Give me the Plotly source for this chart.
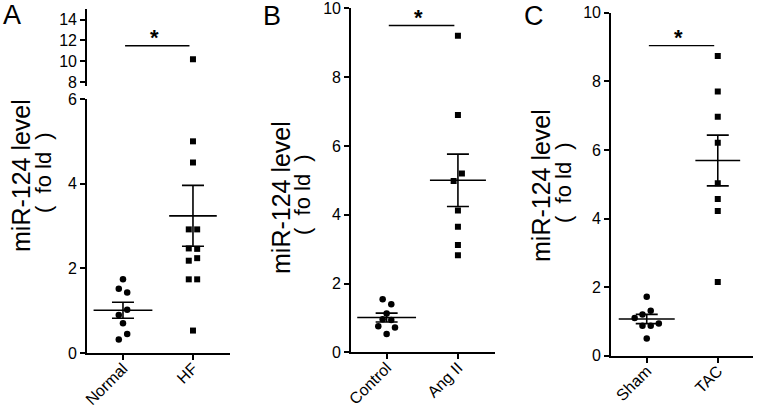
import plotly.graph_objects as go

# ---------------- data ----------------
a_labels = ["Normal", "HF"]
normal_vals = [1.74, 1.52, 1.43, 1.02, 0.90, 0.70, 0.45, 0.32]
normal_dx = [0, -0.06, 0.06, 0.06, -0.06, 0, 0.06, -0.06]
hf_vals = [10.2, 5.0, 4.5, 2.92, 2.92, 2.47, 2.46, 2.18, 2.24, 1.74, 1.74, 0.53]
hf_dx = [0, 0, 0, -0.06, 0.06, -0.06, 0.06, -0.06, 0.06, -0.06, 0.06, 0]
a_mean = [1.01, 3.24]
a_sem = [0.19, 0.72]
a_sig = 11.5

b_labels = ["Control", "Ang II"]
control_vals = [1.54, 1.40, 1.13, 0.96, 0.94, 0.76, 0.72, 0.53]
control_dx = [-0.056, 0.065, 0, -0.056, 0.065, -0.117, 0.117, 0]
angii_vals = [9.2, 6.9, 5.2, 4.98, 4.12, 3.65, 3.12, 2.82]
angii_dx = [0, 0, 0.056, -0.06, 0, 0, 0, 0]
b_mean = [1.01, 5.0]
b_sem = [0.13, 0.76]
b_sig = 9.5

c_labels = ["Sham", "TAC"]
sham_vals = [1.72, 1.31, 1.20, 1.10, 0.94, 0.87, 0.87, 0.50]
sham_dx = [0, 0.056, -0.06, -0.17, 0.17, -0.06, 0.056, 0]
tac_vals = [8.74, 7.70, 6.97, 6.21, 5.03, 4.57, 4.22, 2.15]
tac_dx = [0, 0, 0, 0, 0, 0, 0, 0]
c_mean = [1.07, 5.69]
c_sem = [0.135, 0.74]
c_sig = 9.04

a_lower_ticks = [0, 2, 4, 6]
a_upper_ticks = [8, 10, 12, 14]
bc_ticks = [0, 2, 4, 6, 8, 10]
break_at = 6

# ---------------- layout helpers ----------------
W, H = 757, 409
FONT = "Arial, Liberation Sans, Helvetica, sans-serif"
def fx(px): return px / W
def fy(py): return 1 - py / H

fig = go.Figure()

def add_points(vals, dx, idx, symbol, size, xa, ya):
    fig.add_trace(go.Scatter(
        x=[idx + d for d in dx], y=vals, mode="markers",
        marker=dict(symbol=symbol, size=size, color="black", line=dict(width=0)),
        xaxis=xa, yaxis=ya, showlegend=False, hoverinfo="y"))

def add_mean(means, sems, xa, ya, widths):
    for i, (m, s) in enumerate(zip(means, sems)):
        fig.add_trace(go.Scatter(
            x=[i], y=[m], mode="markers",
            marker=dict(symbol="line-ew", size=widths[i], color="black",
                        line=dict(width=1.6, color="black")),
            error_y=dict(type="data", array=[s], visible=True, width=11,
                         thickness=1.6, color="black"),
            xaxis=xa, yaxis=ya, showlegend=False, hoverinfo="y"))

def add_sig(level, xa, ya):
    fig.add_trace(go.Scatter(
        x=[0.03, 0.95], y=[level, level], mode="lines",
        line=dict(color="black", width=1.4), xaxis=xa, yaxis=ya,
        showlegend=False, hoverinfo="skip"))
    fig.add_annotation(x=0.45, y=level, xref=xa, yref=ya, text="<b>*</b>",
                       showarrow=False, yanchor="bottom", yshift=-6,
                       font=dict(family=FONT, size=22, color="black"))

# Panel A (broken axis)
hf_low = [v for v in hf_vals if v <= break_at]
hf_low_dx = [d for v, d in zip(hf_vals, hf_dx) if v <= break_at]
hf_up = [v for v in hf_vals if v > break_at]
hf_up_dx = [d for v, d in zip(hf_vals, hf_dx) if v > break_at]
add_points(normal_vals, normal_dx, 0, "circle", 6.5, "x", "y")
add_points(hf_low, hf_low_dx, 1, "square", 6, "x", "y")
add_points(hf_up, hf_up_dx, 1, "square", 6, "x", "y2")
add_mean(a_mean, a_sem, "x", "y", [42, 34])
add_sig(a_sig, "x", "y2")

# Panel B
add_points(control_vals, control_dx, 0, "circle", 6.5, "x2", "y3")
add_points(angii_vals, angii_dx, 1, "square", 6, "x2", "y3")
add_mean(b_mean, b_sem, "x2", "y3", [42, 40])
add_sig(b_sig, "x2", "y3")

# Panel C
add_points(sham_vals, sham_dx, 0, "circle", 6.5, "x3", "y4")
add_points(tac_vals, tac_dx, 1, "square", 6, "x3", "y4")
add_mean(c_mean, c_sem, "x3", "y4", [40, 32])
add_sig(c_sig, "x3", "y4")

tickfont = dict(family=FONT, size=16, color="black")
axis_common = dict(showline=True, linecolor="black", linewidth=1.6,
                   ticks="outside", ticklen=5, tickwidth=1.6, tickcolor="black",
                   showgrid=False, zeroline=False, tickfont=tickfont,
                   fixedrange=True, automargin=False, ticklabeloverflow="allow")

def xaxis(dom, rng, labels, anchor):
    return dict(domain=dom, range=rng, tickvals=[0, 1], ticktext=labels,
                tickangle=-45, anchor=anchor, ticklabelstandoff=-7,
                **axis_common)

def yaxis(dom, rng, ticks, anchor):
    return dict(domain=dom, range=rng, tickvals=ticks, anchor=anchor, **axis_common)

fig.update_layout(
    width=W, height=H, margin=dict(l=0, r=0, t=0, b=0, autoexpand=False),
    paper_bgcolor="white", plot_bgcolor="white", showlegend=False,
    xaxis=xaxis([fx(87), fx(230)], [-0.514, 1.529], a_labels, "y"),
    yaxis=yaxis([fy(353), fy(99)], [0, 6], a_lower_ticks, "x"),
    yaxis2=yaxis([fy(86), fy(8.5)], [7.65, 15.05], a_upper_ticks, "x"),
    xaxis2=xaxis([fx(351), fx(495)], [-0.5, 1.52], b_labels, "y3"),
    yaxis3=yaxis([fy(352.3), fy(8.3)], [0, 10], bc_ticks, "x2"),
    xaxis3=xaxis([fx(611), fx(753)], [-0.503, 1.496], c_labels, "y4"),
    yaxis4=yaxis([fy(355.7), fy(12.7)], [0, 10], bc_ticks, "x3"),
)

# panel letters
for letter, px, py in [("A", 12, 15), ("B", 272, 16), ("C", 534, 16)]:
    fig.add_annotation(x=fx(px), y=fy(py), xref="paper", yref="paper", text=letter,
                       showarrow=False, xanchor="center", yanchor="middle",
                       font=dict(family=FONT, size=27, color="black"))

# y-axis titles
NB = "\u00a0"
for cx, cy in [(21, 176), (281, 198), (541, 186)]:
    fig.add_annotation(x=fx(cx), y=fy(cy), xref="paper", yref="paper",
                       text="miR-124 level", textangle=-90, showarrow=False,
                       xanchor="center", yanchor="middle",
                       font=dict(family=FONT, size=25, color="black"))
    fig.add_annotation(x=fx(cx + 22), y=fy(cy - 3), xref="paper", yref="paper",
                       text="(" + NB + NB + "fo" + NB + "ld" + NB + NB + ")",
                       textangle=-90, showarrow=False,
                       xanchor="center", yanchor="middle",
                       font=dict(family=FONT, size=22, color="black"))

fig.write_html("out.html", config={"displayModeBar": False},
               post_script="document.body.style.margin='0';document.body.style.padding='0';")
